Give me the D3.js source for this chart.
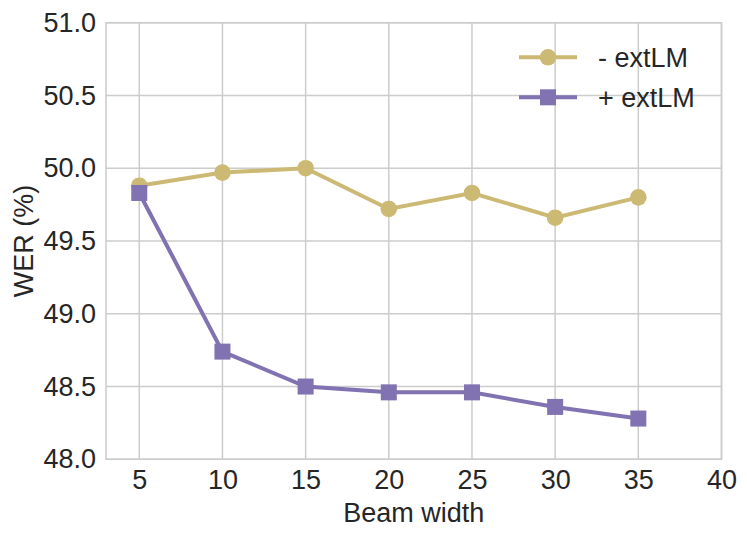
<!DOCTYPE html>
<html><head><meta charset="utf-8">
<script src="https://cdn.jsdelivr.net/npm/d3@7"></script>
<style>body{margin:0;background:#fff}svg{display:block}</style>
</head><body>
<svg id="c" width="747" height="538"></svg>
<script>
const beamWidths = [5, 10, 15, 20, 25, 30, 35];
const noExtLM = [49.88, 49.97, 50.00, 49.72, 49.83, 49.66, 49.80];
const withExtLM = [49.83, 48.74, 48.50, 48.46, 48.46, 48.36, 48.28];
const xTicks = [5, 10, 15, 20, 25, 30, 35, 40];
const yTicks = [48.0, 48.5, 49.0, 49.5, 50.0, 50.5, 51.0];
const seriesNames = ["- extLM", "+ extLM"];
const seriesColors = ["#ccb974", "#8172b2"];

const svg = d3.select("#c");
const L = 106, R = 721.5, T = 22.7, B = 459.3;
const x = d3.scaleLinear().domain([3, 40]).range([L, R]);
const y = d3.scaleLinear().domain([48, 51]).range([B, T]);
const font = "Liberation Sans, Arial, sans-serif";
const fs = 27;
const txt = "#262626";

// grid
svg.append("g").selectAll("line").data(xTicks).join("line")
  .attr("x1", d => x(d)).attr("x2", d => x(d)).attr("y1", T).attr("y2", B)
  .attr("stroke", "#cccccc").attr("stroke-width", 1.5);
svg.append("g").selectAll("line").data(yTicks).join("line")
  .attr("x1", L).attr("x2", R).attr("y1", d => y(d)).attr("y2", d => y(d))
  .attr("stroke", "#cccccc").attr("stroke-width", 1.5);
svg.append("rect").attr("x", L).attr("y", T).attr("width", R - L).attr("height", B - T)
  .attr("fill", "none").attr("stroke", "#cccccc").attr("stroke-width", 1.5);

// axes (labels only)
const xAxis = d3.axisBottom(x).tickValues(xTicks).tickSize(0).tickPadding(11).tickFormat(d3.format("d"));
const gx = svg.append("g").attr("transform", `translate(0,${B})`).call(xAxis);
gx.select(".domain").remove();
gx.selectAll("text").attr("font-family", font).attr("font-size", fs).attr("fill", txt);

const yAxis = d3.axisLeft(y).tickValues(yTicks).tickSize(0).tickPadding(10).tickFormat(d3.format(".1f"));
const gy = svg.append("g").attr("transform", `translate(${L},0)`).call(yAxis);
gy.select(".domain").remove();
gy.selectAll("text").attr("font-family", font).attr("font-size", fs).attr("fill", txt);

svg.append("text").attr("x", (L + R) / 2).attr("y", 522).attr("text-anchor", "middle")
  .attr("font-family", font).attr("font-size", fs).attr("fill", txt).text("Beam width");
svg.append("text").attr("transform", `translate(33,${(T + B) / 2}) rotate(-90)`).attr("text-anchor", "middle")
  .attr("font-family", font).attr("font-size", fs).attr("fill", txt).text("WER (%)");

const line = d3.line().x(d => x(d[0])).y(d => y(d[1]));
const s1 = beamWidths.map((b, i) => [b, noExtLM[i]]);
const s2 = beamWidths.map((b, i) => [b, withExtLM[i]]);

svg.append("path").attr("d", line(s1)).attr("fill", "none").attr("stroke", seriesColors[0]).attr("stroke-width", 4);
svg.append("g").selectAll("circle").data(s1).join("circle")
  .attr("cx", d => x(d[0])).attr("cy", d => y(d[1])).attr("r", 8.3).attr("fill", seriesColors[0]);

svg.append("path").attr("d", line(s2)).attr("fill", "none").attr("stroke", seriesColors[1]).attr("stroke-width", 4);
const sq = 16;
svg.append("g").selectAll("rect").data(s2).join("rect")
  .attr("x", d => x(d[0]) - sq / 2).attr("y", d => y(d[1]) - sq / 2).attr("width", sq).attr("height", sq)
  .attr("fill", seriesColors[1]);

// legend
const lg = svg.append("g");
seriesNames.forEach((name, i) => {
  const ly = 57.3 + i * 40;
  lg.append("line").attr("x1", 519).attr("x2", 577).attr("y1", ly).attr("y2", ly)
    .attr("stroke", seriesColors[i]).attr("stroke-width", 4);
  if (i === 0) lg.append("circle").attr("cx", 548).attr("cy", ly).attr("r", 8.3).attr("fill", seriesColors[i]);
  else lg.append("rect").attr("x", 548 - sq / 2).attr("y", ly - sq / 2).attr("width", sq).attr("height", sq).attr("fill", seriesColors[i]);
  lg.append("text").attr("x", 598).attr("y", ly).attr("dy", "0.35em")
    .attr("font-family", font).attr("font-size", fs).attr("fill", txt).text(name);
});
</script>
</body></html>
